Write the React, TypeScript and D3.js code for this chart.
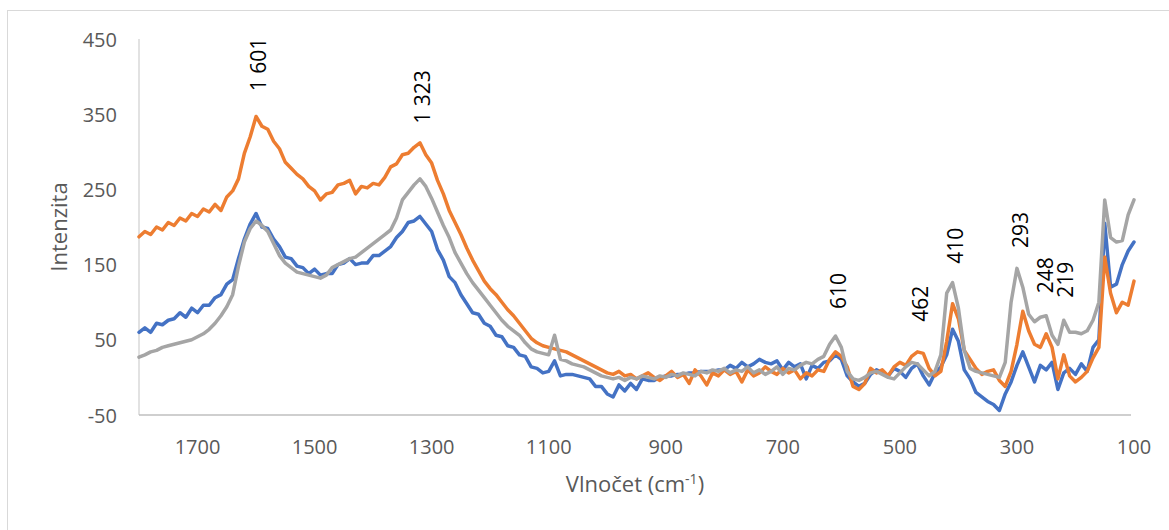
import React from 'react';
import * as d3 from 'd3';

const width = 1169;
const height = 530;

// wavenumber grid, 1800 -> 100 cm-1, every 10
const wavenumbers = d3.range(1800, 99, -10);

const blue = [
  60, 66, 60, 72, 70, 76, 78, 86, 80, 92, 86, 96, 96, 106, 110, 124, 130, 158, 184, 204,
  218, 200, 198, 184, 174, 160, 158, 148, 146, 138, 144, 136, 138, 138, 150, 152, 158, 150, 152, 152,
  162, 162, 168, 174, 186, 194, 206, 208, 214, 204, 194, 170, 156, 134, 126, 110, 98, 86, 84, 72,
  68, 56, 54, 42, 40, 30, 28, 14, 12, 6, 8, 22, 2, 4, 4, 2, 0, -2, -12, -12,
  -22, -26, -10, -18, -8, -16, -2, -4, -4, 0, 2, 2, 4, 4, 6, 6, 8, 8, 8, 10,
  10, 16, 12, 20, 14, 18, 24, 20, 18, 22, 10, 20, 14, 18, -2, 16, 12, 20, 22, 30,
  24, 2, -6, -12, -8, 4, 10, 6, 2, 12, 8, 0, 12, 18, 2, -10, 6, 14, 30, 64,
  48, 10, -2, -20, -26, -32, -36, -44, -22, -6, 16, 34, 14, -6, 16, 10, 20, -16, 6, 12,
  4, 18, 8, 40, 50, 205, 120, 124, 150, 168, 180,
];

const orange = [
  187, 194, 190, 200, 196, 206, 202, 212, 208, 218, 214, 224, 220, 230, 222, 240, 248, 264, 298, 320,
  347, 334, 330, 314, 304, 286, 278, 270, 264, 254, 248, 236, 244, 246, 256, 258, 262, 244, 254, 252,
  258, 256, 266, 280, 284, 296, 298, 306, 312, 296, 285, 262, 244, 222, 206, 190, 172, 156, 142, 128,
  118, 110, 100, 90, 82, 72, 62, 52, 46, 42, 40, 38, 36, 34, 30, 26, 22, 18, 14, 10,
  6, 4, 8, 2, 4, -2, 2, 6, 0, -4, 2, 8, 0, 4, -8, 10, 2, -10, 6, 2,
  10, 4, 8, -6, 10, 2, 6, 14, 8, 4, 12, 6, 10, -2, 6, 2, 10, 8, 24, 34,
  28, 14, -12, -16, -8, 12, 6, 10, 2, 14, 20, 16, 28, 34, 32, 12, 2, 8, 48, 98,
  78, 36, 24, 12, 4, 8, 10, -4, -12, 8, 44, 88, 62, 44, 40, 58, 40, -2, 30, 2,
  -6, 0, 8, 26, 40, 160, 112, 86, 100, 96, 128,
];

const gray = [
  27, 30, 34, 36, 40, 42, 44, 46, 48, 50, 54, 58, 64, 72, 82, 94, 110, 148, 180, 198,
  208, 202, 194, 178, 162, 152, 146, 140, 138, 136, 134, 132, 136, 146, 150, 154, 158, 160, 166, 172,
  178, 184, 190, 196, 212, 236, 246, 256, 264, 254, 238, 220, 202, 186, 166, 152, 138, 126, 116, 106,
  96, 86, 76, 68, 62, 56, 46, 38, 34, 32, 30, 56, 24, 22, 18, 16, 14, 10, 6, 2,
  0, -2, 0, -4, 0, -2, 2, 0, -2, 2, 0, 4, 2, 6, 4, 2, 8, 6, 10, 8,
  12, 6, 10, 8, 14, 6, 10, 4, 8, 14, 4, 12, 10, 16, 20, 18, 24, 28, 44, 55,
  40, 8, -2, -4, 0, 6, 8, 4, 0, -2, 6, 14, 20, 18, 10, 2, 8, 30, 112, 126,
  92, 36, 12, 8, 6, 4, 2, 0, 20, 100, 145, 120, 84, 74, 80, 82, 56, 44, 76, 60,
  60, 58, 62, 76, 100, 236, 186, 180, 182, 216, 236,
];

const seriesColors = ['#4472C4', '#ED7D31', '#A5A5A5'];

const xTicks = [1700, 1500, 1300, 1100, 900, 700, 500, 300, 100];
const yTicks = [-50, 50, 150, 250, 350, 450];

// peak labels: text, wavenumber, intensity at label centre
const peakLabels = ['1 601', '1 323', '610', '462', '410', '293', '248', '219'];
const peakAt = [1596, 1317, 606, 466, 406, 294, 252, 218];
const peakTextY = [416, 373, 115, 98, 175, 196, 136, 130];

const font = '"Open Sans", "DejaVu Sans", sans-serif';

const App = () => {
  const x = d3.scaleLinear().domain([1800, 100]).range([139, 1134]);
  const y = d3.scaleLinear().domain([-50, 450]).range([415, 39]);

  const line = d3
    .line<number>()
    .x((_, i) => x(wavenumbers[i]))
    .y(d => y(d));

  const series = [blue, orange, gray];

  return (
    <svg
      width={width}
      height={height}
      style={{ position: 'absolute', left: 0, top: 0, background: '#fff' }}
    >
      <rect x={7.5} y={10.5} width={1200} height={600} fill="#fff" stroke="#d9d9d9" />

      <line x1={x(1800)} x2={x(1800)} y1={y(450)} y2={y(-50)} stroke="#d9d9d9" strokeWidth={1.5} />
      <line x1={x(1800)} x2={x(100) - 3} y1={y(-50)} y2={y(-50)} stroke="#bfbfbf" strokeWidth={1.5} />

      {yTicks.map(t => (
        <text
          key={t}
          x={117}
          y={y(t)}
          textAnchor="end"
          dominantBaseline="central"
          fontFamily={font}
          fontSize={20}
          fill="#595959"
        >
          {t}
        </text>
      ))}
      {xTicks.map(t => (
        <text
          key={t}
          x={x(t)}
          y={446}
          textAnchor="middle"
          dominantBaseline="central"
          fontFamily={font}
          fontSize={20}
          fill="#595959"
        >
          {t}
        </text>
      ))}

      {series.map((s, i) => (
        <path
          key={i}
          d={line(s) || ''}
          fill="none"
          stroke={seriesColors[i]}
          strokeWidth={3.5}
          strokeLinejoin="round"
          strokeLinecap="round"
        />
      ))}

      {peakLabels.map((p, i) => (
        <text
          key={p}
          transform={`translate(${x(peakAt[i])},${y(peakTextY[i])}) rotate(-90)`}
          textAnchor="middle"
          dominantBaseline="central"
          fontFamily={font}
          fontSize={21}
          fill="#000"
        >
          {p}
        </text>
      ))}

      <text
        transform={`translate(58,227) rotate(-90)`}
        textAnchor="middle"
        dominantBaseline="central"
        fontFamily={font}
        fontSize={22}
        fill="#595959"
      >
        Intenzita
      </text>
      <text x={635} y={492} textAnchor="middle" fontFamily={font} fontSize={22} fill="#595959">
        Vlnočet (cm
        <tspan fontSize={14} dy={-8}>-1</tspan>
        <tspan dy={8}>)</tspan>
      </text>
    </svg>
  );
};

export default App;
